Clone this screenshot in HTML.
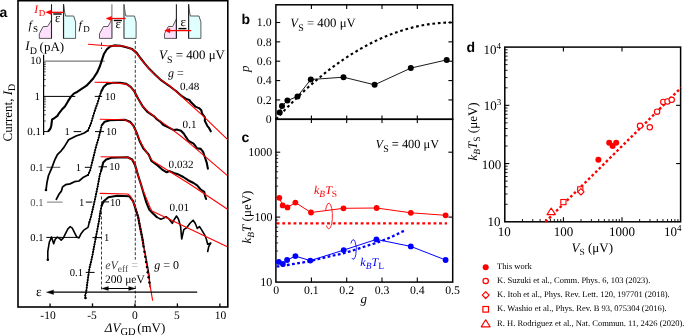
<!DOCTYPE html>
<html><head><meta charset="utf-8"><style>
html,body{margin:0;padding:0;background:#fff;width:685px;height:336px;overflow:hidden}
svg{display:block;font-family:"Liberation Serif",serif;text-rendering:geometricPrecision;will-change:transform}
</style></head><body>
<svg width="685" height="336" viewBox="0 0 685 336">
<rect x="0" y="0" width="685" height="336" fill="#fff"/>
<text x="-0.50" y="16.50" font-family='"Liberation Sans", sans-serif' font-size="14" fill="#000" text-anchor="start"  font-weight="bold">a</text>
<text x="241.50" y="23.50" font-family='"Liberation Sans", sans-serif' font-size="14" fill="#000" text-anchor="start"  font-weight="bold">b</text>
<text x="241.50" y="141.80" font-family='"Liberation Sans", sans-serif' font-size="14" fill="#000" text-anchor="start"  font-weight="bold">c</text>
<text x="466.50" y="51.70" font-family='"Liberation Sans", sans-serif' font-size="14" fill="#000" text-anchor="start"  font-weight="bold">d</text>
<polygon points="39.30,38.40 39.30,33.70 43.20,26.50 47.50,26.50 51.50,20.00 51.50,38.40" fill="#fde0fb" stroke="#333" stroke-width="0.8" stroke-linejoin="round"/>
<polygon points="63.60,4.50 64.80,13.00 65.50,16.00 73.70,16.00 75.60,22.00 75.60,38.40 63.60,38.40" fill="#e0ffff" stroke="#333" stroke-width="0.8" stroke-linejoin="round"/>
<line x1="51.50" y1="4.20" x2="51.50" y2="38.60" stroke="#222" stroke-width="1.1" />
<line x1="63.50" y1="4.20" x2="63.50" y2="38.60" stroke="#222" stroke-width="1.1" />
<polygon points="99.50,38.40 99.50,33.70 103.50,26.50 108.00,26.50 111.90,19.50 111.90,38.40" fill="#fde0fb" stroke="#333" stroke-width="0.8" stroke-linejoin="round"/>
<polygon points="124.00,4.50 125.20,13.00 125.80,16.00 134.50,16.00 136.10,22.00 136.10,38.40 124.00,38.40" fill="#e0ffff" stroke="#333" stroke-width="0.8" stroke-linejoin="round"/>
<line x1="111.90" y1="4.20" x2="111.90" y2="38.60" stroke="#777" stroke-width="1.1" />
<line x1="123.90" y1="4.20" x2="123.90" y2="38.60" stroke="#777" stroke-width="1.1" />
<polygon points="164.50,38.40 164.50,33.70 168.30,26.50 172.60,26.50 176.40,19.00 176.40,38.40" fill="#fde0fb" stroke="#333" stroke-width="0.8" stroke-linejoin="round"/>
<polygon points="188.60,4.50 189.70,13.00 190.30,16.00 199.00,16.00 200.90,22.00 200.90,38.40 188.60,38.40" fill="#e0ffff" stroke="#333" stroke-width="0.8" stroke-linejoin="round"/>
<line x1="176.40" y1="4.20" x2="176.40" y2="38.60" stroke="#222" stroke-width="1.1" />
<line x1="188.60" y1="4.20" x2="188.60" y2="38.60" stroke="#222" stroke-width="1.1" />
<line x1="50.60" y1="12.30" x2="64.00" y2="12.30" stroke="#ff0000" stroke-width="1.3" />
<polygon points="45.60,12.30 51.10,10.00 51.10,14.60" fill="#ff0000" stroke="#ff0000" stroke-width="0.3" stroke-linejoin="round"/>
<line x1="111.00" y1="18.50" x2="125.70" y2="18.50" stroke="#ff0000" stroke-width="1.3" />
<polygon points="106.00,18.50 111.50,16.20 111.50,20.80" fill="#ff0000" stroke="#ff0000" stroke-width="0.3" stroke-linejoin="round"/>
<line x1="169.50" y1="30.60" x2="191.20" y2="30.60" stroke="#ff0000" stroke-width="1.3" />
<polygon points="164.50,30.60 170.00,28.30 170.00,32.90" fill="#ff0000" stroke="#ff0000" stroke-width="0.3" stroke-linejoin="round"/>
<text x="34.20" y="12.90" font-family='"Liberation Serif", serif' font-size="11.5" fill="#ff0000" text-anchor="start"  font-style="italic">I</text>
<text x="38.80" y="16.20" font-family='"Liberation Serif", serif' font-size="9" fill="#ff0000" text-anchor="start"  >D</text>
<line x1="53.30" y1="14.00" x2="61.70" y2="14.00" stroke="#000" stroke-width="1.4" />
<text x="54.90" y="21.50" font-family='"Liberation Serif", serif' font-size="13" fill="#000" text-anchor="start"  >ε</text>
<line x1="113.80" y1="20.50" x2="121.90" y2="20.50" stroke="#000" stroke-width="1.4" />
<text x="115.60" y="27.80" font-family='"Liberation Serif", serif' font-size="13" fill="#000" text-anchor="start"  >ε</text>
<text x="180.40" y="26.20" font-family='"Liberation Serif", serif' font-size="13" fill="#000" text-anchor="start"  >ε</text>
<line x1="178.50" y1="28.60" x2="186.40" y2="28.60" stroke="#000" stroke-width="1.4" />
<text x="28.50" y="29.00" font-family='"Liberation Serif", serif' font-size="12" fill="#000" text-anchor="start"  font-style="italic">f</text>
<text x="33.00" y="31.50" font-family='"Liberation Serif", serif' font-size="9" fill="#000" text-anchor="start"  >S</text>
<text x="78.50" y="29.00" font-family='"Liberation Serif", serif' font-size="12" fill="#000" text-anchor="start"  font-style="italic">f</text>
<text x="83.30" y="31.50" font-family='"Liberation Serif", serif' font-size="9" fill="#000" text-anchor="start"  >D</text>
<text x="25.30" y="50.30" font-family='"Liberation Serif", serif' font-size="13" fill="#000" text-anchor="start"  font-style="italic">I</text>
<text x="29.80" y="54.30" font-family='"Liberation Serif", serif' font-size="10" fill="#000" text-anchor="start"  >D</text>
<text x="39.60" y="50.50" font-family='"Liberation Serif", serif' font-size="13" fill="#000" text-anchor="start"  >(pA)</text>
<rect x="18.00" y="0.70" width="209.80" height="306.30" fill="none" stroke="#000" stroke-width="1.6"/>
<line x1="50.05" y1="307.00" x2="50.05" y2="303.40" stroke="#000" stroke-width="1.3" />
<line x1="92.50" y1="307.00" x2="92.50" y2="303.40" stroke="#000" stroke-width="1.3" />
<line x1="134.95" y1="307.00" x2="134.95" y2="303.40" stroke="#000" stroke-width="1.3" />
<line x1="177.40" y1="307.00" x2="177.40" y2="303.40" stroke="#000" stroke-width="1.3" />
<line x1="219.85" y1="307.00" x2="219.85" y2="303.40" stroke="#000" stroke-width="1.3" />
<text x="40.30" y="319.30" font-family='"Liberation Serif", serif' font-size="11.5" fill="#000" text-anchor="start"  >-10</text>
<text x="87.20" y="319.30" font-family='"Liberation Serif", serif' font-size="11.5" fill="#000" text-anchor="start"  >-5</text>
<text x="134.90" y="319.30" font-family='"Liberation Serif", serif' font-size="11.5" fill="#000" text-anchor="middle"  >0</text>
<text x="176.90" y="319.30" font-family='"Liberation Serif", serif' font-size="11.5" fill="#000" text-anchor="middle"  >5</text>
<text x="220.50" y="319.30" font-family='"Liberation Serif", serif' font-size="11.5" fill="#000" text-anchor="middle"  >10</text>
<text x="104.80" y="331.90" font-family='"Liberation Serif", serif' font-size="13" fill="#000" text-anchor="start"  ><tspan font-style="italic">ΔV</tspan><tspan font-size="10.5" dy="3.2">GD</tspan><tspan dy="-3.2" dx="1.6">(mV)</tspan></text>
<text transform="translate(11.5,141.5) rotate(-90)" font-family='"Liberation Serif", serif' font-size="13" fill="#000">Current, <tspan font-style="italic">I</tspan><tspan font-size="10" dy="3">D</tspan></text>
<line x1="135.30" y1="41.00" x2="135.30" y2="307.00" stroke="#222" stroke-width="0.9" stroke-dasharray="3,1.8"/>
<line x1="101.50" y1="42.50" x2="101.50" y2="49.00" stroke="#222" stroke-width="0.9" stroke-dasharray="3,2"/>
<line x1="101.50" y1="196.50" x2="101.50" y2="289.50" stroke="#222" stroke-width="0.9" stroke-dasharray="3,2"/>
<line x1="43.60" y1="54.80" x2="43.60" y2="135.00" stroke="#000" stroke-width="1.2" />
<line x1="43.60" y1="85.80" x2="45.80" y2="85.80" stroke="#000" stroke-width="0.7" />
<line x1="43.60" y1="79.61" x2="45.80" y2="79.61" stroke="#000" stroke-width="0.7" />
<line x1="43.60" y1="75.21" x2="45.80" y2="75.21" stroke="#000" stroke-width="0.7" />
<line x1="43.60" y1="71.80" x2="45.80" y2="71.80" stroke="#000" stroke-width="0.7" />
<line x1="43.60" y1="69.01" x2="45.80" y2="69.01" stroke="#000" stroke-width="0.7" />
<line x1="43.60" y1="66.65" x2="45.80" y2="66.65" stroke="#000" stroke-width="0.7" />
<line x1="43.60" y1="64.61" x2="45.80" y2="64.61" stroke="#000" stroke-width="0.7" />
<line x1="43.60" y1="62.81" x2="45.80" y2="62.81" stroke="#000" stroke-width="0.7" />
<line x1="43.60" y1="121.00" x2="45.80" y2="121.00" stroke="#000" stroke-width="0.7" />
<line x1="43.60" y1="114.81" x2="45.80" y2="114.81" stroke="#000" stroke-width="0.7" />
<line x1="43.60" y1="110.41" x2="45.80" y2="110.41" stroke="#000" stroke-width="0.7" />
<line x1="43.60" y1="107.00" x2="45.80" y2="107.00" stroke="#000" stroke-width="0.7" />
<line x1="43.60" y1="104.21" x2="45.80" y2="104.21" stroke="#000" stroke-width="0.7" />
<line x1="43.60" y1="101.85" x2="45.80" y2="101.85" stroke="#000" stroke-width="0.7" />
<line x1="43.60" y1="99.81" x2="45.80" y2="99.81" stroke="#000" stroke-width="0.7" />
<line x1="43.60" y1="98.01" x2="45.80" y2="98.01" stroke="#000" stroke-width="0.7" />
<line x1="43.60" y1="61.20" x2="104.70" y2="61.20" stroke="#7a7a7a" stroke-width="1.3" />
<line x1="43.60" y1="96.40" x2="75.30" y2="96.40" stroke="#000" stroke-width="1.0" />
<line x1="43.60" y1="131.60" x2="48.60" y2="131.60" stroke="#000" stroke-width="1.0" />
<text x="41.20" y="64.40" font-family='"Liberation Serif", serif' font-size="11" fill="#000" text-anchor="end"  >10</text>
<text x="40.00" y="100.00" font-family='"Liberation Serif", serif' font-size="11" fill="#000" text-anchor="end"  >1</text>
<text x="41.00" y="134.80" font-family='"Liberation Serif", serif' font-size="11" fill="#000" text-anchor="end"  >0.1</text>
<line x1="94.80" y1="96.40" x2="102.20" y2="96.40" stroke="#000" stroke-width="1.0" />
<text x="105.00" y="100.00" font-family='"Liberation Serif", serif' font-size="10.6" fill="#000" text-anchor="start"  >10</text>
<line x1="73.60" y1="131.60" x2="81.30" y2="131.60" stroke="#000" stroke-width="1.0" />
<text x="69.80" y="135.20" font-family='"Liberation Serif", serif' font-size="10.6" fill="#000" text-anchor="end"  >1</text>
<line x1="46.50" y1="167.30" x2="60.30" y2="167.30" stroke="#555" stroke-width="1.0" />
<text x="43.60" y="170.90" font-family='"Liberation Serif", serif' font-size="10.6" fill="#111" text-anchor="end"  >0.1</text>
<line x1="95.00" y1="131.60" x2="104.00" y2="131.60" stroke="#000" stroke-width="1.0" />
<text x="106.00" y="135.20" font-family='"Liberation Serif", serif' font-size="10.6" fill="#000" text-anchor="start"  >10</text>
<line x1="84.80" y1="167.30" x2="90.70" y2="167.30" stroke="#000" stroke-width="1.0" />
<text x="81.00" y="170.90" font-family='"Liberation Serif", serif' font-size="10.6" fill="#000" text-anchor="end"  >1</text>
<line x1="47.00" y1="202.10" x2="62.60" y2="202.10" stroke="#777" stroke-width="1.0" />
<text x="43.60" y="205.70" font-family='"Liberation Serif", serif' font-size="10.6" fill="#555" text-anchor="end"  >0.1</text>
<line x1="98.60" y1="166.80" x2="107.00" y2="166.80" stroke="#000" stroke-width="1.0" />
<text x="109.30" y="170.40" font-family='"Liberation Serif", serif' font-size="10.6" fill="#000" text-anchor="start"  >10</text>
<line x1="85.80" y1="202.10" x2="92.30" y2="202.10" stroke="#000" stroke-width="1.0" />
<text x="84.20" y="205.70" font-family='"Liberation Serif", serif' font-size="10.6" fill="#000" text-anchor="end"  >1</text>
<line x1="46.30" y1="237.40" x2="80.00" y2="237.40" stroke="#000" stroke-width="1.0" />
<text x="43.60" y="241.00" font-family='"Liberation Serif", serif' font-size="10.6" fill="#000" text-anchor="end"  >0.1</text>
<line x1="101.80" y1="201.90" x2="109.00" y2="201.90" stroke="#000" stroke-width="1.0" />
<text x="110.00" y="205.50" font-family='"Liberation Serif", serif' font-size="10.6" fill="#000" text-anchor="start"  >10</text>
<line x1="92.40" y1="237.60" x2="101.50" y2="237.60" stroke="#000" stroke-width="1.0" />
<text x="104.00" y="241.20" font-family='"Liberation Serif", serif' font-size="10.6" fill="#000" text-anchor="start"  >1</text>
<line x1="85.70" y1="272.40" x2="94.60" y2="272.40" stroke="#000" stroke-width="1.0" />
<text x="83.00" y="276.00" font-family='"Liberation Serif", serif' font-size="10.6" fill="#000" text-anchor="end"  >0.1</text>
<polyline points="48.50,131.00 50.50,128.50 51.30,125.50 52.10,119.40 53.90,118.50 57.40,115.90 58.90,113.30 61.90,109.60 64.90,106.60 67.90,101.40 70.80,96.90 73.80,93.60 77.50,91.70 82.00,88.70 86.50,85.70 90.00,82.00 93.20,78.50 97.00,72.70 100.00,66.00 101.90,60.10 103.80,54.30 106.70,49.50 109.90,46.60 114.30,45.40 120.30,45.70 126.30,47.20 132.20,49.10 136.70,52.90 140.00,57.50 144.80,63.60 149.50,69.10 155.50,75.00 161.40,80.40 167.40,84.60 170.00,86.50 176.00,91.00 181.90,96.20 186.40,99.10 189.30,99.90 190.80,102.10 195.30,106.60 199.00,108.10 201.30,110.30 202.00,113.30 204.00,116.00 205.00,117.50 204.80,120.70 205.70,122.60 207.60,126.40 209.00,127.90 210.50,130.70 210.80,131.30" fill="none" stroke="#000" stroke-width="2.1" stroke-linejoin="round" stroke-linecap="round" />
<polyline points="46.00,190.00 47.00,182.40 48.50,175.50 51.50,168.70 53.70,162.70 55.20,159.00 57.40,154.60 61.20,150.80 64.10,147.10 66.40,143.40 68.60,139.70 71.60,138.20 76.00,136.00 80.50,134.50 84.20,133.00 88.00,130.50" fill="none" stroke="#000" stroke-width="1.75" stroke-linejoin="round" stroke-linecap="round" />
<polyline points="88.00,130.50 90.90,123.70 93.10,116.30 95.20,109.50 97.60,102.90 99.50,96.50 101.30,91.50" fill="none" stroke="#000" stroke-width="1.1" stroke-linejoin="round" stroke-linecap="round" />
<polyline points="101.30,91.50 103.60,87.00 106.90,83.90 112.90,82.70 120.30,82.70 126.30,83.90 130.70,86.90 134.40,91.40 138.20,98.80 142.60,106.30 147.80,112.20 154.50,116.70 157.10,119.50 160.50,121.80 163.10,124.80 167.90,127.10 173.80,130.10 176.80,129.50 181.00,130.70 183.90,133.70 185.70,136.70 188.00,140.20 190.00,141.80 193.60,143.60 197.10,148.30 200.70,148.90 203.10,151.90 204.30,155.50 205.50,159.00 206.70,162.60 207.90,168.60" fill="none" stroke="#000" stroke-width="2.1" stroke-linejoin="round" stroke-linecap="round" />
<polyline points="56.30,199.30 58.90,194.30 61.20,191.40 62.60,186.90 65.60,184.70 70.00,183.90 74.50,181.70 79.00,181.00 83.50,177.20 88.00,175.00" fill="none" stroke="#000" stroke-width="1.75" stroke-linejoin="round" stroke-linecap="round" />
<polyline points="88.00,175.00 90.20,170.20 91.70,164.20 93.90,155.30 96.10,146.40 98.40,138.90 100.60,130.00 101.70,125.40" fill="none" stroke="#000" stroke-width="1.1" stroke-linejoin="round" stroke-linecap="round" />
<polyline points="101.70,125.40 104.70,121.70 109.90,120.20 124.80,119.80 130.00,121.70 133.70,126.20 136.70,132.90 139.60,141.00 143.40,148.50 148.60,154.40 151.50,161.00 157.50,165.40 161.90,169.30 166.70,172.30 169.60,171.10 173.80,172.90 178.60,174.60 183.30,177.00 188.10,180.20 190.00,181.20 193.60,183.00 197.10,185.40 200.70,189.50 204.30,191.90 204.90,195.50 206.10,199.00" fill="none" stroke="#000" stroke-width="2.1" stroke-linejoin="round" stroke-linecap="round" />
<polyline points="47.80,259.80 47.80,251.30 49.30,242.30 51.50,237.10 53.70,243.80 55.20,239.30 57.40,237.10 59.70,238.60 61.20,240.10 63.40,237.90 65.60,233.40 67.90,228.90 70.10,226.70 72.30,228.20 74.50,232.60 76.80,237.10 79.00,237.90 81.20,233.40 83.50,230.40 85.70,228.90 88.00,227.40 89.40,222.00" fill="none" stroke="#000" stroke-width="1.6" stroke-linejoin="round" stroke-linecap="round" />
<polyline points="89.40,222.00 90.90,217.00 93.10,207.70 95.40,197.30 97.60,186.90 99.80,175.00 101.30,170.20" fill="none" stroke="#000" stroke-width="1.1" stroke-linejoin="round" stroke-linecap="round" />
<polyline points="101.30,170.20 103.20,162.40 106.20,159.50 111.40,157.70 127.70,157.20 132.20,159.50 135.20,165.40 138.20,175.80 141.10,184.80 144.10,195.00 146.30,202.40 149.40,209.80 152.50,212.90 156.70,217.10" fill="none" stroke="#000" stroke-width="2.1" stroke-linejoin="round" stroke-linecap="round" />
<polyline points="156.70,217.10 160.80,219.20 164.00,218.10 166.00,216.70 169.20,219.20 172.30,223.30 174.40,219.20 176.50,216.00 178.50,219.20 180.60,226.50 181.70,239.00 183.80,229.60 186.90,227.50 190.00,223.30 193.10,220.20 195.20,223.30 197.30,228.50 199.40,226.50 201.50,229.60 204.60,234.80 206.30,239.00 207.70,244.20 210.80,243.10 208.80,246.30 207.70,251.50" fill="none" stroke="#000" stroke-width="1.6" stroke-linejoin="round" stroke-linecap="round" />
<polyline points="85.50,298.00 85.20,295.70 86.50,289.80 87.20,283.80 88.70,273.40 89.50,268.00 91.00,262.00 92.40,255.70 94.60,243.80 96.90,232.00 99.00,221.00 100.30,212.00 101.70,205.40" fill="none" stroke="#000" stroke-width="1.1" stroke-linejoin="round" stroke-linecap="round" />
<polyline points="101.70,205.40 103.90,201.00 108.40,197.20 117.30,195.70 129.20,196.20 133.00,201.00 135.90,209.90 138.20,217.30 139.60,224.80 141.10,232.20 142.60,239.60 143.40,245.00" fill="none" stroke="#000" stroke-width="2.1" stroke-linejoin="round" stroke-linecap="round" />
<polyline points="143.40,245.00 145.00,252.00 146.50,260.00 148.00,268.00 149.30,276.00 150.00,287.00" fill="none" stroke="#000" stroke-width="1.1" stroke-linejoin="round" stroke-linecap="round" />
<circle cx="88.00" cy="130.50" r="1.1" fill="#000" stroke="none" stroke-width="1"/>
<circle cx="89.02" cy="128.11" r="1.1" fill="#000" stroke="none" stroke-width="1"/>
<circle cx="90.04" cy="125.72" r="1.1" fill="#000" stroke="none" stroke-width="1"/>
<circle cx="91.02" cy="123.31" r="1.1" fill="#000" stroke="none" stroke-width="1"/>
<circle cx="91.76" cy="120.82" r="1.1" fill="#000" stroke="none" stroke-width="1"/>
<circle cx="92.50" cy="118.33" r="1.1" fill="#000" stroke="none" stroke-width="1"/>
<circle cx="93.24" cy="115.83" r="1.1" fill="#000" stroke="none" stroke-width="1"/>
<circle cx="94.01" cy="113.35" r="1.1" fill="#000" stroke="none" stroke-width="1"/>
<circle cx="94.78" cy="110.87" r="1.1" fill="#000" stroke="none" stroke-width="1"/>
<circle cx="95.60" cy="108.40" r="1.1" fill="#000" stroke="none" stroke-width="1"/>
<circle cx="96.49" cy="105.96" r="1.1" fill="#000" stroke="none" stroke-width="1"/>
<circle cx="97.38" cy="103.51" r="1.1" fill="#000" stroke="none" stroke-width="1"/>
<circle cx="98.15" cy="101.03" r="1.1" fill="#000" stroke="none" stroke-width="1"/>
<circle cx="98.89" cy="98.54" r="1.1" fill="#000" stroke="none" stroke-width="1"/>
<circle cx="99.66" cy="96.06" r="1.1" fill="#000" stroke="none" stroke-width="1"/>
<circle cx="100.54" cy="93.61" r="1.1" fill="#000" stroke="none" stroke-width="1"/>
<circle cx="88.00" cy="175.00" r="1.1" fill="#000" stroke="none" stroke-width="1"/>
<circle cx="89.08" cy="172.64" r="1.1" fill="#000" stroke="none" stroke-width="1"/>
<circle cx="90.17" cy="170.27" r="1.1" fill="#000" stroke="none" stroke-width="1"/>
<circle cx="90.81" cy="167.76" r="1.1" fill="#000" stroke="none" stroke-width="1"/>
<circle cx="91.44" cy="165.23" r="1.1" fill="#000" stroke="none" stroke-width="1"/>
<circle cx="92.07" cy="162.71" r="1.1" fill="#000" stroke="none" stroke-width="1"/>
<circle cx="92.69" cy="160.19" r="1.1" fill="#000" stroke="none" stroke-width="1"/>
<circle cx="93.32" cy="157.66" r="1.1" fill="#000" stroke="none" stroke-width="1"/>
<circle cx="93.94" cy="155.14" r="1.1" fill="#000" stroke="none" stroke-width="1"/>
<circle cx="94.56" cy="152.61" r="1.1" fill="#000" stroke="none" stroke-width="1"/>
<circle cx="95.19" cy="150.09" r="1.1" fill="#000" stroke="none" stroke-width="1"/>
<circle cx="95.81" cy="147.57" r="1.1" fill="#000" stroke="none" stroke-width="1"/>
<circle cx="96.51" cy="145.06" r="1.1" fill="#000" stroke="none" stroke-width="1"/>
<circle cx="97.27" cy="142.58" r="1.1" fill="#000" stroke="none" stroke-width="1"/>
<circle cx="98.03" cy="140.09" r="1.1" fill="#000" stroke="none" stroke-width="1"/>
<circle cx="98.73" cy="137.58" r="1.1" fill="#000" stroke="none" stroke-width="1"/>
<circle cx="99.35" cy="135.06" r="1.1" fill="#000" stroke="none" stroke-width="1"/>
<circle cx="99.97" cy="132.54" r="1.1" fill="#000" stroke="none" stroke-width="1"/>
<circle cx="100.60" cy="130.01" r="1.1" fill="#000" stroke="none" stroke-width="1"/>
<circle cx="101.20" cy="127.48" r="1.1" fill="#000" stroke="none" stroke-width="1"/>
<circle cx="89.40" cy="222.00" r="1.1" fill="#000" stroke="none" stroke-width="1"/>
<circle cx="90.15" cy="219.51" r="1.1" fill="#000" stroke="none" stroke-width="1"/>
<circle cx="90.89" cy="217.02" r="1.1" fill="#000" stroke="none" stroke-width="1"/>
<circle cx="91.49" cy="214.49" r="1.1" fill="#000" stroke="none" stroke-width="1"/>
<circle cx="92.09" cy="211.96" r="1.1" fill="#000" stroke="none" stroke-width="1"/>
<circle cx="92.69" cy="209.43" r="1.1" fill="#000" stroke="none" stroke-width="1"/>
<circle cx="93.28" cy="206.90" r="1.1" fill="#000" stroke="none" stroke-width="1"/>
<circle cx="93.84" cy="204.36" r="1.1" fill="#000" stroke="none" stroke-width="1"/>
<circle cx="94.40" cy="201.82" r="1.1" fill="#000" stroke="none" stroke-width="1"/>
<circle cx="94.96" cy="199.28" r="1.1" fill="#000" stroke="none" stroke-width="1"/>
<circle cx="95.52" cy="196.74" r="1.1" fill="#000" stroke="none" stroke-width="1"/>
<circle cx="96.06" cy="194.20" r="1.1" fill="#000" stroke="none" stroke-width="1"/>
<circle cx="96.59" cy="191.65" r="1.1" fill="#000" stroke="none" stroke-width="1"/>
<circle cx="97.13" cy="189.11" r="1.1" fill="#000" stroke="none" stroke-width="1"/>
<circle cx="97.66" cy="186.56" r="1.1" fill="#000" stroke="none" stroke-width="1"/>
<circle cx="98.13" cy="184.01" r="1.1" fill="#000" stroke="none" stroke-width="1"/>
<circle cx="98.61" cy="181.45" r="1.1" fill="#000" stroke="none" stroke-width="1"/>
<circle cx="99.08" cy="178.89" r="1.1" fill="#000" stroke="none" stroke-width="1"/>
<circle cx="99.55" cy="176.34" r="1.1" fill="#000" stroke="none" stroke-width="1"/>
<circle cx="100.17" cy="173.82" r="1.1" fill="#000" stroke="none" stroke-width="1"/>
<circle cx="100.95" cy="171.33" r="1.1" fill="#000" stroke="none" stroke-width="1"/>
<circle cx="85.50" cy="298.00" r="1.1" fill="#000" stroke="none" stroke-width="1"/>
<circle cx="85.26" cy="295.43" r="1.1" fill="#000" stroke="none" stroke-width="1"/>
<circle cx="85.82" cy="292.89" r="1.1" fill="#000" stroke="none" stroke-width="1"/>
<circle cx="86.38" cy="290.35" r="1.1" fill="#000" stroke="none" stroke-width="1"/>
<circle cx="86.74" cy="287.77" r="1.1" fill="#000" stroke="none" stroke-width="1"/>
<circle cx="87.04" cy="285.19" r="1.1" fill="#000" stroke="none" stroke-width="1"/>
<circle cx="87.37" cy="282.61" r="1.1" fill="#000" stroke="none" stroke-width="1"/>
<circle cx="87.74" cy="280.04" r="1.1" fill="#000" stroke="none" stroke-width="1"/>
<circle cx="88.11" cy="277.47" r="1.1" fill="#000" stroke="none" stroke-width="1"/>
<circle cx="88.48" cy="274.89" r="1.1" fill="#000" stroke="none" stroke-width="1"/>
<circle cx="88.86" cy="272.32" r="1.1" fill="#000" stroke="none" stroke-width="1"/>
<circle cx="89.24" cy="269.75" r="1.1" fill="#000" stroke="none" stroke-width="1"/>
<circle cx="89.70" cy="267.19" r="1.1" fill="#000" stroke="none" stroke-width="1"/>
<circle cx="90.33" cy="264.67" r="1.1" fill="#000" stroke="none" stroke-width="1"/>
<circle cx="90.96" cy="262.15" r="1.1" fill="#000" stroke="none" stroke-width="1"/>
<circle cx="91.53" cy="259.61" r="1.1" fill="#000" stroke="none" stroke-width="1"/>
<circle cx="92.09" cy="257.07" r="1.1" fill="#000" stroke="none" stroke-width="1"/>
<circle cx="92.62" cy="254.53" r="1.1" fill="#000" stroke="none" stroke-width="1"/>
<circle cx="93.09" cy="251.97" r="1.1" fill="#000" stroke="none" stroke-width="1"/>
<circle cx="93.56" cy="249.41" r="1.1" fill="#000" stroke="none" stroke-width="1"/>
<circle cx="94.03" cy="246.86" r="1.1" fill="#000" stroke="none" stroke-width="1"/>
<circle cx="94.51" cy="244.30" r="1.1" fill="#000" stroke="none" stroke-width="1"/>
<circle cx="95.00" cy="241.75" r="1.1" fill="#000" stroke="none" stroke-width="1"/>
<circle cx="95.50" cy="239.19" r="1.1" fill="#000" stroke="none" stroke-width="1"/>
<circle cx="96.00" cy="236.64" r="1.1" fill="#000" stroke="none" stroke-width="1"/>
<circle cx="96.49" cy="234.09" r="1.1" fill="#000" stroke="none" stroke-width="1"/>
<circle cx="96.99" cy="231.54" r="1.1" fill="#000" stroke="none" stroke-width="1"/>
<circle cx="97.48" cy="228.98" r="1.1" fill="#000" stroke="none" stroke-width="1"/>
<circle cx="97.96" cy="226.43" r="1.1" fill="#000" stroke="none" stroke-width="1"/>
<circle cx="98.45" cy="223.88" r="1.1" fill="#000" stroke="none" stroke-width="1"/>
<circle cx="98.94" cy="221.32" r="1.1" fill="#000" stroke="none" stroke-width="1"/>
<circle cx="99.32" cy="218.75" r="1.1" fill="#000" stroke="none" stroke-width="1"/>
<circle cx="99.70" cy="216.18" r="1.1" fill="#000" stroke="none" stroke-width="1"/>
<circle cx="100.07" cy="213.61" r="1.1" fill="#000" stroke="none" stroke-width="1"/>
<circle cx="100.50" cy="211.04" r="1.1" fill="#000" stroke="none" stroke-width="1"/>
<circle cx="101.04" cy="208.50" r="1.1" fill="#000" stroke="none" stroke-width="1"/>
<circle cx="101.58" cy="205.96" r="1.1" fill="#000" stroke="none" stroke-width="1"/>
<circle cx="46.00" cy="190.00" r="1.3" fill="#000" stroke="none" stroke-width="1"/>
<circle cx="47.80" cy="259.80" r="1.3" fill="#000" stroke="none" stroke-width="1"/>
<circle cx="85.50" cy="298.00" r="1.2" fill="#000" stroke="none" stroke-width="1"/>
<polyline points="88.40,44.30 109.60,46.00 114.30,45.60 120.30,45.90 124.80,46.30 133.70,49.90 140.00,57.80 144.80,63.90 149.50,69.40 155.50,75.40 161.40,80.40 167.40,84.30 170.00,86.00 201.90,114.80 227.40,139.40" fill="none" stroke="#ff0000" stroke-width="1.1" stroke-linejoin="round" stroke-linecap="round" />
<polyline points="95.00,82.30 108.40,82.40 124.80,83.90 126.30,84.20 130.70,87.00 134.40,91.40 138.20,98.80 142.60,106.30 148.30,111.70 157.90,119.40 169.80,127.60 181.00,136.30 190.00,143.60 226.90,175.10" fill="none" stroke="#ff0000" stroke-width="1.1" stroke-linejoin="round" stroke-linecap="round" />
<polyline points="100.20,119.20 124.80,119.80 132.20,123.90 136.70,132.90 141.10,143.30 145.60,150.70 148.60,155.50 152.40,160.80 190.00,184.20 227.50,209.20" fill="none" stroke="#ff0000" stroke-width="1.1" stroke-linejoin="round" stroke-linecap="round" />
<polyline points="101.00,156.80 127.70,157.20 133.70,161.00 136.70,169.90 139.60,180.30 142.60,189.20 146.30,198.20 150.10,207.50 152.00,211.00 226.80,246.40" fill="none" stroke="#ff0000" stroke-width="1.1" stroke-linejoin="round" stroke-linecap="round" />
<polyline points="100.20,193.40 127.70,194.00 130.70,196.50 135.90,208.40 139.60,223.30 141.20,233.00 152.60,300.30" fill="none" stroke="#ff0000" stroke-width="1.1" stroke-linejoin="round" stroke-linecap="round" />
<circle cx="135.90" cy="209.90" r="1.0" fill="#000" stroke="none" stroke-width="1"/>
<circle cx="136.73" cy="212.57" r="1.0" fill="#000" stroke="none" stroke-width="1"/>
<circle cx="137.56" cy="215.25" r="1.0" fill="#000" stroke="none" stroke-width="1"/>
<circle cx="138.32" cy="217.94" r="1.0" fill="#000" stroke="none" stroke-width="1"/>
<circle cx="138.83" cy="220.69" r="1.0" fill="#000" stroke="none" stroke-width="1"/>
<circle cx="139.35" cy="223.44" r="1.0" fill="#000" stroke="none" stroke-width="1"/>
<circle cx="139.88" cy="226.19" r="1.0" fill="#000" stroke="none" stroke-width="1"/>
<circle cx="140.44" cy="228.94" r="1.0" fill="#000" stroke="none" stroke-width="1"/>
<circle cx="140.99" cy="231.68" r="1.0" fill="#000" stroke="none" stroke-width="1"/>
<circle cx="141.55" cy="234.43" r="1.0" fill="#000" stroke="none" stroke-width="1"/>
<circle cx="142.11" cy="237.17" r="1.0" fill="#000" stroke="none" stroke-width="1"/>
<circle cx="142.65" cy="239.92" r="1.0" fill="#000" stroke="none" stroke-width="1"/>
<circle cx="143.06" cy="242.69" r="1.0" fill="#000" stroke="none" stroke-width="1"/>
<circle cx="143.60" cy="246.50" r="1.25" fill="#000" stroke="none" stroke-width="1"/>
<circle cx="144.43" cy="251.63" r="1.25" fill="#000" stroke="none" stroke-width="1"/>
<circle cx="145.25" cy="256.77" r="1.25" fill="#000" stroke="none" stroke-width="1"/>
<circle cx="146.08" cy="261.90" r="1.25" fill="#000" stroke="none" stroke-width="1"/>
<circle cx="146.91" cy="267.04" r="1.25" fill="#000" stroke="none" stroke-width="1"/>
<circle cx="147.73" cy="272.17" r="1.25" fill="#000" stroke="none" stroke-width="1"/>
<circle cx="148.56" cy="277.30" r="1.25" fill="#000" stroke="none" stroke-width="1"/>
<circle cx="149.39" cy="282.44" r="1.25" fill="#000" stroke="none" stroke-width="1"/>
<text x="159.00" y="59.20" font-family='"Liberation Serif", serif' font-size="12.9" fill="#000" text-anchor="start"  ><tspan font-style="italic">V</tspan><tspan font-size="10" dy="3.8">S</tspan><tspan dy="-3.8"> = 400 μV</tspan></text>
<text x="168.00" y="77.40" font-family='"Liberation Serif", serif' font-size="12" fill="#000" text-anchor="start"  ><tspan font-style="italic">g</tspan> =</text>
<text x="180.00" y="89.60" font-family='"Liberation Serif", serif' font-size="11.1" fill="#000" text-anchor="start"  >0.48</text>
<text x="182.60" y="128.30" font-family='"Liberation Serif", serif' font-size="11.1" fill="#000" text-anchor="start"  >0.1</text>
<text x="168.60" y="167.50" font-family='"Liberation Serif", serif' font-size="11.1" fill="#000" text-anchor="start"  >0.032</text>
<text x="169.60" y="211.30" font-family='"Liberation Serif", serif' font-size="11.1" fill="#000" text-anchor="start"  >0.01</text>
<text x="154.30" y="268.60" font-family='"Liberation Serif", serif' font-size="12" fill="#000" text-anchor="start"  ><tspan font-style="italic">g</tspan> = 0</text>
<rect x="104" y="259.6" width="40.5" height="25.6" fill="#fff"/>
<text x="105.20" y="269.20" font-family='"Liberation Serif", serif' font-size="12" fill="#444" text-anchor="start"  ><tspan font-style="italic">eV</tspan><tspan font-size="9.5" dy="3">eff</tspan><tspan dy="-3" fill="#999"> =</tspan></text>
<text x="105.00" y="282.60" font-family='"Liberation Serif", serif' font-size="11.5" fill="#000" text-anchor="start"  >200 μeV</text>
<line x1="53.10" y1="292.20" x2="197.20" y2="292.20" stroke="#000" stroke-width="1.3" />
<polygon points="46.30,292.20 53.60,289.90 53.60,294.50" fill="#000" stroke="#000" stroke-width="0.3" stroke-linejoin="round"/>
<text x="36.00" y="295.60" font-family='"Liberation Serif", serif' font-size="13.5" fill="#000" text-anchor="start"  >ε</text>
<line x1="107.90" y1="288.50" x2="135.50" y2="288.50" stroke="#000" stroke-width="1.0" />
<polygon points="101.60,288.50 108.40,286.50 108.40,290.50" fill="#000" stroke="#000" stroke-width="0.3" stroke-linejoin="round"/>
<polygon points="135.50,288.50 128.70,286.50 128.70,290.50" fill="#000" stroke="#000" stroke-width="0.3" stroke-linejoin="round"/>
<rect x="275.90" y="4.80" width="176.80" height="114.50" fill="none" stroke="#000" stroke-width="1.5"/>
<rect x="275.90" y="119.30" width="176.80" height="162.80" fill="none" stroke="#000" stroke-width="1.5"/>
<line x1="311.40" y1="4.80" x2="311.40" y2="9.10" stroke="#000" stroke-width="1.1" />
<line x1="311.40" y1="119.30" x2="311.40" y2="115.50" stroke="#000" stroke-width="1.1" />
<line x1="311.40" y1="119.30" x2="311.40" y2="123.10" stroke="#000" stroke-width="1.1" />
<line x1="311.40" y1="282.10" x2="311.40" y2="277.50" stroke="#000" stroke-width="1.1" />
<line x1="346.70" y1="4.80" x2="346.70" y2="9.10" stroke="#000" stroke-width="1.1" />
<line x1="346.70" y1="119.30" x2="346.70" y2="115.50" stroke="#000" stroke-width="1.1" />
<line x1="346.70" y1="119.30" x2="346.70" y2="123.10" stroke="#000" stroke-width="1.1" />
<line x1="346.70" y1="282.10" x2="346.70" y2="277.50" stroke="#000" stroke-width="1.1" />
<line x1="382.00" y1="4.80" x2="382.00" y2="9.10" stroke="#000" stroke-width="1.1" />
<line x1="382.00" y1="119.30" x2="382.00" y2="115.50" stroke="#000" stroke-width="1.1" />
<line x1="382.00" y1="119.30" x2="382.00" y2="123.10" stroke="#000" stroke-width="1.1" />
<line x1="382.00" y1="282.10" x2="382.00" y2="277.50" stroke="#000" stroke-width="1.1" />
<line x1="417.30" y1="4.80" x2="417.30" y2="9.10" stroke="#000" stroke-width="1.1" />
<line x1="417.30" y1="119.30" x2="417.30" y2="115.50" stroke="#000" stroke-width="1.1" />
<line x1="417.30" y1="119.30" x2="417.30" y2="123.10" stroke="#000" stroke-width="1.1" />
<line x1="417.30" y1="282.10" x2="417.30" y2="277.50" stroke="#000" stroke-width="1.1" />
<line x1="275.90" y1="99.94" x2="280.20" y2="99.94" stroke="#000" stroke-width="1.1" />
<line x1="452.70" y1="99.94" x2="448.40" y2="99.94" stroke="#000" stroke-width="1.1" />
<line x1="275.90" y1="80.58" x2="280.20" y2="80.58" stroke="#000" stroke-width="1.1" />
<line x1="452.70" y1="80.58" x2="448.40" y2="80.58" stroke="#000" stroke-width="1.1" />
<line x1="275.90" y1="61.22" x2="280.20" y2="61.22" stroke="#000" stroke-width="1.1" />
<line x1="452.70" y1="61.22" x2="448.40" y2="61.22" stroke="#000" stroke-width="1.1" />
<line x1="275.90" y1="41.86" x2="280.20" y2="41.86" stroke="#000" stroke-width="1.1" />
<line x1="452.70" y1="41.86" x2="448.40" y2="41.86" stroke="#000" stroke-width="1.1" />
<line x1="275.90" y1="22.50" x2="280.20" y2="22.50" stroke="#000" stroke-width="1.1" />
<line x1="452.70" y1="22.50" x2="448.40" y2="22.50" stroke="#000" stroke-width="1.1" />
<text x="271.60" y="123.20" font-family='"Liberation Serif", serif' font-size="11.8" fill="#000" text-anchor="end"  >0</text>
<text x="271.60" y="103.84" font-family='"Liberation Serif", serif' font-size="11.8" fill="#000" text-anchor="end"  >0.2</text>
<text x="271.60" y="84.48" font-family='"Liberation Serif", serif' font-size="11.8" fill="#000" text-anchor="end"  >0.4</text>
<text x="271.60" y="65.12" font-family='"Liberation Serif", serif' font-size="11.8" fill="#000" text-anchor="end"  >0.6</text>
<text x="271.60" y="45.76" font-family='"Liberation Serif", serif' font-size="11.8" fill="#000" text-anchor="end"  >0.8</text>
<text x="271.60" y="26.40" font-family='"Liberation Serif", serif' font-size="11.8" fill="#000" text-anchor="end"  >1.0</text>
<text transform="translate(249.2,72.0) rotate(-90)" font-family='"Liberation Serif", serif' font-size="13" font-style="italic" fill="#000">p</text>
<text x="290.30" y="27.00" font-family='"Liberation Serif", serif' font-size="12.8" fill="#000" text-anchor="start"  ><tspan font-style="italic">V</tspan><tspan font-size="10" dy="3.6">S</tspan><tspan dy="-3.6"> = 400 μV</tspan></text>
<polyline points="276.10,119.30 277.87,117.37 279.63,115.47 281.40,113.58 283.16,111.71 284.93,109.86 286.69,108.03 288.46,106.22 290.22,104.43 291.99,102.66 293.75,100.91 295.52,99.18 297.28,97.46 299.05,95.77 300.81,94.09 302.58,92.44 304.34,90.80 306.11,89.19 307.87,87.59 309.64,86.01 311.40,84.45 313.17,82.91 314.93,81.39 316.70,79.89 318.46,78.41 320.23,76.95 321.99,75.51 323.75,74.08 325.52,72.68 327.29,71.30 329.05,69.93 330.81,68.59 332.58,67.26 334.35,65.95 336.11,64.67 337.88,63.40 339.64,62.15 341.41,60.92 343.17,59.71 344.94,58.52 346.70,57.35 348.47,56.20 350.23,55.06 352.00,53.95 353.76,52.86 355.53,51.78 357.29,50.73 359.06,49.69 360.82,48.67 362.59,47.68 364.35,46.70 366.12,45.74 367.88,44.80 369.65,43.88 371.41,42.98 373.18,42.10 374.94,41.24 376.71,40.40 378.47,39.58 380.24,38.77 382.00,37.99 383.76,37.22 385.53,36.48 387.30,35.75 389.06,35.05 390.83,34.36 392.59,33.69 394.36,33.04 396.12,32.41 397.88,31.80 399.65,31.21 401.42,30.64 403.18,30.09 404.95,29.56 406.71,29.04 408.48,28.55 410.24,28.08 412.00,27.62 413.77,27.19 415.54,26.77 417.30,26.37 419.07,25.99 420.83,25.64 422.60,25.30 424.36,24.98 426.12,24.68 427.89,24.40 429.66,24.14 431.42,23.89 433.19,23.67 434.95,23.47 436.72,23.28 438.48,23.12 440.25,22.97 442.01,22.85 443.77,22.74 445.54,22.65 447.31,22.59 449.07,22.54 450.84,22.51 452.60,22.50" fill="none" stroke="#000" stroke-width="2.1" stroke-linejoin="round" stroke-linecap="butt" stroke-dasharray="2.7,2.8"/>
<polyline points="279.70,112.60 282.00,106.00 287.40,100.60 297.50,96.40 310.80,79.50 343.50,77.20 374.60,84.80 410.80,68.10 446.70,59.90" fill="none" stroke="#000" stroke-width="0.9" stroke-linejoin="round" stroke-linecap="round" />
<circle cx="279.70" cy="112.60" r="3.0" fill="#000" stroke="none" stroke-width="1"/>
<circle cx="282.00" cy="106.00" r="3.0" fill="#000" stroke="none" stroke-width="1"/>
<circle cx="287.40" cy="100.60" r="3.0" fill="#000" stroke="none" stroke-width="1"/>
<circle cx="297.50" cy="96.40" r="3.0" fill="#000" stroke="none" stroke-width="1"/>
<circle cx="310.80" cy="79.50" r="3.0" fill="#000" stroke="none" stroke-width="1"/>
<circle cx="343.50" cy="77.20" r="3.0" fill="#000" stroke="none" stroke-width="1"/>
<circle cx="374.60" cy="84.80" r="3.0" fill="#000" stroke="none" stroke-width="1"/>
<circle cx="410.80" cy="68.10" r="3.0" fill="#000" stroke="none" stroke-width="1"/>
<circle cx="446.70" cy="59.90" r="3.0" fill="#000" stroke="none" stroke-width="1"/>
<line x1="275.90" y1="262.46" x2="278.20" y2="262.46" stroke="#000" stroke-width="0.8" />
<line x1="275.90" y1="251.03" x2="278.20" y2="251.03" stroke="#000" stroke-width="0.8" />
<line x1="275.90" y1="242.93" x2="278.20" y2="242.93" stroke="#000" stroke-width="0.8" />
<line x1="275.90" y1="236.64" x2="278.20" y2="236.64" stroke="#000" stroke-width="0.8" />
<line x1="275.90" y1="231.50" x2="278.20" y2="231.50" stroke="#000" stroke-width="0.8" />
<line x1="275.90" y1="227.15" x2="278.20" y2="227.15" stroke="#000" stroke-width="0.8" />
<line x1="275.90" y1="223.39" x2="278.20" y2="223.39" stroke="#000" stroke-width="0.8" />
<line x1="275.90" y1="220.07" x2="278.20" y2="220.07" stroke="#000" stroke-width="0.8" />
<line x1="275.90" y1="197.56" x2="278.20" y2="197.56" stroke="#000" stroke-width="0.8" />
<line x1="275.90" y1="186.13" x2="278.20" y2="186.13" stroke="#000" stroke-width="0.8" />
<line x1="275.90" y1="178.03" x2="278.20" y2="178.03" stroke="#000" stroke-width="0.8" />
<line x1="275.90" y1="171.74" x2="278.20" y2="171.74" stroke="#000" stroke-width="0.8" />
<line x1="275.90" y1="166.60" x2="278.20" y2="166.60" stroke="#000" stroke-width="0.8" />
<line x1="275.90" y1="162.25" x2="278.20" y2="162.25" stroke="#000" stroke-width="0.8" />
<line x1="275.90" y1="158.49" x2="278.20" y2="158.49" stroke="#000" stroke-width="0.8" />
<line x1="275.90" y1="155.17" x2="278.20" y2="155.17" stroke="#000" stroke-width="0.8" />
<line x1="275.90" y1="217.10" x2="280.20" y2="217.10" stroke="#000" stroke-width="1.1" />
<line x1="452.70" y1="217.10" x2="448.40" y2="217.10" stroke="#000" stroke-width="1.1" />
<line x1="275.90" y1="152.20" x2="280.20" y2="152.20" stroke="#000" stroke-width="1.1" />
<line x1="452.70" y1="152.20" x2="448.40" y2="152.20" stroke="#000" stroke-width="1.1" />
<text x="272.20" y="156.20" font-family='"Liberation Serif", serif' font-size="12" fill="#000" text-anchor="end"  >1000</text>
<text x="272.40" y="221.10" font-family='"Liberation Serif", serif' font-size="12" fill="#000" text-anchor="end"  >100</text>
<text x="272.20" y="285.60" font-family='"Liberation Serif", serif' font-size="12" fill="#000" text-anchor="end"  >10</text>
<text x="276.10" y="294.30" font-family='"Liberation Serif", serif' font-size="11.8" fill="#000" text-anchor="middle"  >0</text>
<text x="311.40" y="294.30" font-family='"Liberation Serif", serif' font-size="11.8" fill="#000" text-anchor="middle"  >0.1</text>
<text x="346.70" y="294.30" font-family='"Liberation Serif", serif' font-size="11.8" fill="#000" text-anchor="middle"  >0.2</text>
<text x="382.00" y="294.30" font-family='"Liberation Serif", serif' font-size="11.8" fill="#000" text-anchor="middle"  >0.3</text>
<text x="417.30" y="294.30" font-family='"Liberation Serif", serif' font-size="11.8" fill="#000" text-anchor="middle"  >0.4</text>
<text x="452.60" y="294.30" font-family='"Liberation Serif", serif' font-size="11.8" fill="#000" text-anchor="middle"  >0.5</text>
<text x="360.60" y="303.30" font-family='"Liberation Serif", serif' font-size="13" fill="#000" text-anchor="start"  font-style="italic">g</text>
<text transform="translate(250.9,243.5) rotate(-90)" font-family='"Liberation Serif", serif' font-size="13" fill="#000"><tspan font-style="italic">k</tspan><tspan font-size="9.5" dy="3" font-style="italic">B</tspan><tspan dy="-3" font-style="italic">T</tspan> (μeV)</text>
<text x="375.60" y="148.20" font-family='"Liberation Serif", serif' font-size="12.4" fill="#000" text-anchor="start"  ><tspan font-style="italic">V</tspan><tspan font-size="10" dy="3.6">S</tspan><tspan dy="-3.6"> = 400 μV</tspan></text>
<line x1="276.70" y1="223.40" x2="447.00" y2="223.40" stroke="#ff0000" stroke-width="2.2" stroke-dasharray="2.8,2.8"/>
<polyline points="279.30,197.80 282.70,205.40 287.50,207.40 295.40,202.60 311.00,212.50 343.50,208.30 376.60,208.00 410.80,212.80 445.60,215.30" fill="none" stroke="#ff0000" stroke-width="1.0" stroke-linejoin="round" stroke-linecap="round" />
<circle cx="279.30" cy="197.80" r="2.9" fill="#ff0000" stroke="none" stroke-width="1"/>
<circle cx="282.70" cy="205.40" r="2.9" fill="#ff0000" stroke="none" stroke-width="1"/>
<circle cx="287.50" cy="207.40" r="2.9" fill="#ff0000" stroke="none" stroke-width="1"/>
<circle cx="295.40" cy="202.60" r="2.9" fill="#ff0000" stroke="none" stroke-width="1"/>
<circle cx="311.00" cy="212.50" r="2.9" fill="#ff0000" stroke="none" stroke-width="1"/>
<circle cx="343.50" cy="208.30" r="2.9" fill="#ff0000" stroke="none" stroke-width="1"/>
<circle cx="376.60" cy="208.00" r="2.9" fill="#ff0000" stroke="none" stroke-width="1"/>
<circle cx="410.80" cy="212.80" r="2.9" fill="#ff0000" stroke="none" stroke-width="1"/>
<circle cx="445.60" cy="215.30" r="2.9" fill="#ff0000" stroke="none" stroke-width="1"/>
<polyline points="278.80,261.90 282.90,264.00 287.10,260.00 295.40,256.10 310.30,260.60 343.70,250.10 376.40,239.40 410.80,246.40 445.60,260.00" fill="none" stroke="#0000ff" stroke-width="1.0" stroke-linejoin="round" stroke-linecap="round" />
<circle cx="278.80" cy="261.90" r="2.9" fill="#0000ff" stroke="none" stroke-width="1"/>
<circle cx="282.90" cy="264.00" r="2.9" fill="#0000ff" stroke="none" stroke-width="1"/>
<circle cx="287.10" cy="260.00" r="2.9" fill="#0000ff" stroke="none" stroke-width="1"/>
<circle cx="295.40" cy="256.10" r="2.9" fill="#0000ff" stroke="none" stroke-width="1"/>
<circle cx="310.30" cy="260.60" r="2.9" fill="#0000ff" stroke="none" stroke-width="1"/>
<circle cx="343.70" cy="250.10" r="2.9" fill="#0000ff" stroke="none" stroke-width="1"/>
<circle cx="376.40" cy="239.40" r="2.9" fill="#0000ff" stroke="none" stroke-width="1"/>
<circle cx="410.80" cy="246.40" r="2.9" fill="#0000ff" stroke="none" stroke-width="1"/>
<circle cx="445.60" cy="260.00" r="2.9" fill="#0000ff" stroke="none" stroke-width="1"/>
<polyline points="276.60,266.60 277.44,266.48 278.54,266.32 279.85,266.14 281.32,265.93 282.88,265.71 284.49,265.47 286.08,265.23 287.60,265.00 289.12,264.76 290.72,264.50 292.36,264.22 294.01,263.94 295.65,263.67 297.23,263.39 298.72,263.14 300.10,262.90 301.31,262.70 302.37,262.52 303.33,262.37 304.24,262.22 305.16,262.06 306.14,261.88 307.23,261.66 308.50,261.40 309.96,261.08 311.57,260.71 313.28,260.30 315.06,259.87 316.87,259.44 318.65,259.00 320.38,258.59 322.00,258.20 323.53,257.84 325.01,257.48 326.46,257.14 327.88,256.80 329.27,256.47 330.65,256.14 332.02,255.82 333.40,255.50 334.77,255.19 336.12,254.90 337.46,254.62 338.79,254.34 340.12,254.05 341.44,253.76 342.77,253.44 344.10,253.10 345.43,252.74 346.74,252.35 348.05,251.96 349.36,251.55 350.68,251.13 352.03,250.70 353.40,250.25 354.80,249.80 356.26,249.33 357.76,248.84 359.30,248.32 360.85,247.81 362.40,247.29 363.94,246.77 365.44,246.28 366.90,245.80 368.30,245.36 369.64,244.94 370.96,244.54 372.26,244.14 373.55,243.74 374.87,243.33 376.21,242.88 377.60,242.40 379.02,241.89 380.45,241.37 381.90,240.83 383.37,240.27 384.87,239.68 386.40,239.06 387.98,238.40 389.60,237.70 391.38,236.90 393.37,235.97 395.46,234.97 397.55,233.96 399.55,232.98 401.36,232.09 402.87,231.35 404.00,230.80" fill="none" stroke="#0000ff" stroke-width="2.3" stroke-linejoin="round" stroke-linecap="butt" stroke-dasharray="2.8,2.4"/>
<path d="M325.55,210.5 A3.6,12.8 0 1 1 326.4,225.5" fill="none" stroke="#ff0000" stroke-width="0.85"/>
<path d="M350.9,243.5 A3.0,9.8 0 1 1 351.8,258" fill="none" stroke="#0000ff" stroke-width="0.85"/>
<text x="314.00" y="194.10" font-family='"Liberation Serif", serif' font-size="12" fill="#ff0000" text-anchor="start"  ><tspan font-style="italic">k</tspan><tspan font-size="9.5" dy="3" font-style="italic">B</tspan><tspan dy="-3" font-style="italic">T</tspan><tspan font-size="9.5" dy="3">S</tspan></text>
<text x="360.30" y="265.50" font-family='"Liberation Serif", serif' font-size="12" fill="#0000ff" text-anchor="start"  ><tspan font-style="italic">k</tspan><tspan font-size="9.5" dy="3" font-style="italic">B</tspan><tspan dy="-3" font-style="italic">T</tspan><tspan font-size="9.5" dy="3">L</tspan></text>
<rect x="504.80" y="47.10" width="175.80" height="174.70" fill="none" stroke="#000" stroke-width="1.5"/>
<line x1="522.44" y1="221.80" x2="522.44" y2="219.00" stroke="#000" stroke-width="0.9" />
<line x1="504.80" y1="204.27" x2="507.60" y2="204.27" stroke="#000" stroke-width="0.9" />
<line x1="532.76" y1="221.80" x2="532.76" y2="219.00" stroke="#000" stroke-width="0.9" />
<line x1="504.80" y1="194.02" x2="507.60" y2="194.02" stroke="#000" stroke-width="0.9" />
<line x1="540.08" y1="221.80" x2="540.08" y2="219.00" stroke="#000" stroke-width="0.9" />
<line x1="504.80" y1="186.74" x2="507.60" y2="186.74" stroke="#000" stroke-width="0.9" />
<line x1="545.76" y1="221.80" x2="545.76" y2="219.00" stroke="#000" stroke-width="0.9" />
<line x1="504.80" y1="181.10" x2="507.60" y2="181.10" stroke="#000" stroke-width="0.9" />
<line x1="550.40" y1="221.80" x2="550.40" y2="219.00" stroke="#000" stroke-width="0.9" />
<line x1="504.80" y1="176.49" x2="507.60" y2="176.49" stroke="#000" stroke-width="0.9" />
<line x1="554.32" y1="221.80" x2="554.32" y2="219.00" stroke="#000" stroke-width="0.9" />
<line x1="504.80" y1="172.59" x2="507.60" y2="172.59" stroke="#000" stroke-width="0.9" />
<line x1="557.72" y1="221.80" x2="557.72" y2="219.00" stroke="#000" stroke-width="0.9" />
<line x1="504.80" y1="169.21" x2="507.60" y2="169.21" stroke="#000" stroke-width="0.9" />
<line x1="560.72" y1="221.80" x2="560.72" y2="219.00" stroke="#000" stroke-width="0.9" />
<line x1="504.80" y1="166.23" x2="507.60" y2="166.23" stroke="#000" stroke-width="0.9" />
<line x1="581.04" y1="221.80" x2="581.04" y2="219.00" stroke="#000" stroke-width="0.9" />
<line x1="504.80" y1="146.04" x2="507.60" y2="146.04" stroke="#000" stroke-width="0.9" />
<line x1="591.36" y1="221.80" x2="591.36" y2="219.00" stroke="#000" stroke-width="0.9" />
<line x1="504.80" y1="135.79" x2="507.60" y2="135.79" stroke="#000" stroke-width="0.9" />
<line x1="598.68" y1="221.80" x2="598.68" y2="219.00" stroke="#000" stroke-width="0.9" />
<line x1="504.80" y1="128.51" x2="507.60" y2="128.51" stroke="#000" stroke-width="0.9" />
<line x1="604.36" y1="221.80" x2="604.36" y2="219.00" stroke="#000" stroke-width="0.9" />
<line x1="504.80" y1="122.87" x2="507.60" y2="122.87" stroke="#000" stroke-width="0.9" />
<line x1="609.00" y1="221.80" x2="609.00" y2="219.00" stroke="#000" stroke-width="0.9" />
<line x1="504.80" y1="118.26" x2="507.60" y2="118.26" stroke="#000" stroke-width="0.9" />
<line x1="612.92" y1="221.80" x2="612.92" y2="219.00" stroke="#000" stroke-width="0.9" />
<line x1="504.80" y1="114.36" x2="507.60" y2="114.36" stroke="#000" stroke-width="0.9" />
<line x1="616.32" y1="221.80" x2="616.32" y2="219.00" stroke="#000" stroke-width="0.9" />
<line x1="504.80" y1="110.98" x2="507.60" y2="110.98" stroke="#000" stroke-width="0.9" />
<line x1="619.32" y1="221.80" x2="619.32" y2="219.00" stroke="#000" stroke-width="0.9" />
<line x1="504.80" y1="108.00" x2="507.60" y2="108.00" stroke="#000" stroke-width="0.9" />
<line x1="639.64" y1="221.80" x2="639.64" y2="219.00" stroke="#000" stroke-width="0.9" />
<line x1="504.80" y1="87.81" x2="507.60" y2="87.81" stroke="#000" stroke-width="0.9" />
<line x1="649.96" y1="221.80" x2="649.96" y2="219.00" stroke="#000" stroke-width="0.9" />
<line x1="504.80" y1="77.56" x2="507.60" y2="77.56" stroke="#000" stroke-width="0.9" />
<line x1="657.28" y1="221.80" x2="657.28" y2="219.00" stroke="#000" stroke-width="0.9" />
<line x1="504.80" y1="70.28" x2="507.60" y2="70.28" stroke="#000" stroke-width="0.9" />
<line x1="662.96" y1="221.80" x2="662.96" y2="219.00" stroke="#000" stroke-width="0.9" />
<line x1="504.80" y1="64.64" x2="507.60" y2="64.64" stroke="#000" stroke-width="0.9" />
<line x1="667.60" y1="221.80" x2="667.60" y2="219.00" stroke="#000" stroke-width="0.9" />
<line x1="504.80" y1="60.03" x2="507.60" y2="60.03" stroke="#000" stroke-width="0.9" />
<line x1="671.52" y1="221.80" x2="671.52" y2="219.00" stroke="#000" stroke-width="0.9" />
<line x1="504.80" y1="56.13" x2="507.60" y2="56.13" stroke="#000" stroke-width="0.9" />
<line x1="674.92" y1="221.80" x2="674.92" y2="219.00" stroke="#000" stroke-width="0.9" />
<line x1="504.80" y1="52.75" x2="507.60" y2="52.75" stroke="#000" stroke-width="0.9" />
<line x1="677.92" y1="221.80" x2="677.92" y2="219.00" stroke="#000" stroke-width="0.9" />
<line x1="504.80" y1="49.77" x2="507.60" y2="49.77" stroke="#000" stroke-width="0.9" />
<line x1="563.40" y1="221.80" x2="563.40" y2="217.30" stroke="#000" stroke-width="1.1" />
<line x1="563.40" y1="47.10" x2="563.40" y2="51.60" stroke="#000" stroke-width="1.1" />
<line x1="504.80" y1="163.57" x2="509.30" y2="163.57" stroke="#000" stroke-width="1.1" />
<line x1="680.60" y1="163.57" x2="676.10" y2="163.57" stroke="#000" stroke-width="1.1" />
<line x1="622.00" y1="221.80" x2="622.00" y2="217.30" stroke="#000" stroke-width="1.1" />
<line x1="622.00" y1="47.10" x2="622.00" y2="51.60" stroke="#000" stroke-width="1.1" />
<line x1="504.80" y1="105.34" x2="509.30" y2="105.34" stroke="#000" stroke-width="1.1" />
<line x1="680.60" y1="105.34" x2="676.10" y2="105.34" stroke="#000" stroke-width="1.1" />
<text x="504.20" y="236.40" font-family='"Liberation Serif", serif' font-size="13" fill="#000" text-anchor="middle"  >10</text>
<text x="563.40" y="236.40" font-family='"Liberation Serif", serif' font-size="13" fill="#000" text-anchor="middle"  >100</text>
<text x="622.00" y="236.40" font-family='"Liberation Serif", serif' font-size="13" fill="#000" text-anchor="middle"  >1000</text>
<text x="664.00" y="236.40" font-family='"Liberation Serif", serif' font-size="13" fill="#000" text-anchor="start"  >10<tspan font-size="9" dy="-5">4</tspan></text>
<text x="500.60" y="225.70" font-family='"Liberation Serif", serif' font-size="13" fill="#000" text-anchor="end"  >10</text>
<text x="501.20" y="169.00" font-family='"Liberation Serif", serif' font-size="13" fill="#000" text-anchor="end"  >100</text>
<text x="483.80" y="110.00" font-family='"Liberation Serif", serif' font-size="13" fill="#000" text-anchor="start"  >10<tspan font-size="9" dy="-5">3</tspan></text>
<text x="483.60" y="54.00" font-family='"Liberation Serif", serif' font-size="13" fill="#000" text-anchor="start"  >10<tspan font-size="9" dy="-5">4</tspan></text>
<text x="571.50" y="251.50" font-family='"Liberation Serif", serif' font-size="13" fill="#000" text-anchor="start"  ><tspan font-style="italic">V</tspan><tspan font-size="9.5" dy="3">S</tspan><tspan dy="-3"> (μV)</tspan></text>
<text transform="translate(477.0,160.5) rotate(-90)" font-family='"Liberation Serif", serif' font-size="13" fill="#000"><tspan font-style="italic">k</tspan><tspan font-size="9.5" dy="3" font-style="italic">B</tspan><tspan dy="-3" font-style="italic">T</tspan><tspan font-size="9.5" dy="3">S</tspan><tspan dy="-3"> (μeV)</tspan></text>
<line x1="545.50" y1="221.80" x2="681.00" y2="87.80" stroke="#ff0000" stroke-width="2.4" stroke-dasharray="2.6,2.4"/>
<circle cx="598.40" cy="159.70" r="3.0" fill="#ff0000" stroke="none" stroke-width="1"/>
<circle cx="609.20" cy="142.70" r="3.0" fill="#ff0000" stroke="none" stroke-width="1"/>
<circle cx="612.60" cy="146.10" r="3.0" fill="#ff0000" stroke="none" stroke-width="1"/>
<circle cx="616.20" cy="142.70" r="3.0" fill="#ff0000" stroke="none" stroke-width="1"/>
<circle cx="640.00" cy="125.80" r="2.7" fill="#fff" stroke="#ff0000" stroke-width="1.1"/>
<circle cx="649.80" cy="127.30" r="2.7" fill="#fff" stroke="#ff0000" stroke-width="1.1"/>
<circle cx="657.10" cy="111.70" r="2.7" fill="#fff" stroke="#ff0000" stroke-width="1.1"/>
<circle cx="663.30" cy="101.90" r="2.7" fill="#fff" stroke="#ff0000" stroke-width="1.1"/>
<circle cx="667.50" cy="101.50" r="2.7" fill="#fff" stroke="#ff0000" stroke-width="1.1"/>
<circle cx="671.70" cy="99.80" r="2.7" fill="#fff" stroke="#ff0000" stroke-width="1.1"/>
<rect x="577.70" y="186.80" width="5.20" height="5.20" fill="#fff" stroke="#ff0000" stroke-width="1.1"/>
<polygon points="580.90,188.60 584.10,191.80 580.90,195.00 577.70,191.80" fill="#fff" stroke="#ff0000" stroke-width="1.1" stroke-linejoin="round"/>
<rect x="560.80" y="199.50" width="5.20" height="5.20" fill="#fff" stroke="#ff0000" stroke-width="1.1"/>
<polygon points="551.20,208.00 555.38,214.65 547.02,214.65" fill="#fff" stroke="#ff0000" stroke-width="1.1" stroke-linejoin="round"/>
<circle cx="485.70" cy="267.20" r="3.0" fill="#ff0000" stroke="none" stroke-width="1"/>
<circle cx="485.70" cy="281.00" r="2.7" fill="#fff" stroke="#ff0000" stroke-width="1.2"/>
<polygon points="485.70,291.70 489.10,295.10 485.70,298.50 482.30,295.10" fill="#fff" stroke="#ff0000" stroke-width="1.2" stroke-linejoin="round"/>
<rect x="482.90" y="306.50" width="5.60" height="5.60" fill="#fff" stroke="#ff0000" stroke-width="1.2"/>
<polygon points="485.70,319.80 490.10,326.80 481.30,326.80" fill="#fff" stroke="#ff0000" stroke-width="1.2" stroke-linejoin="round"/>
<text x="497.10" y="268.70" font-family='"Liberation Serif", serif' font-size="8.5" fill="#000" text-anchor="start"  >This work</text>
<text x="497.10" y="282.70" font-family='"Liberation Serif", serif' font-size="8.5" fill="#000" text-anchor="start"  >K. Suzuki et al., Comm. Phys. 6, 103 (2023).</text>
<text x="497.10" y="297.10" font-family='"Liberation Serif", serif' font-size="8.5" fill="#000" text-anchor="start"  >K. Itoh et al., Phys. Rev. Lett. 120, 197701 (2018).</text>
<text x="497.10" y="311.30" font-family='"Liberation Serif", serif' font-size="8.5" fill="#000" text-anchor="start"  >K. Washio et al., Phys. Rev. B 93, 075304 (2016).</text>
<text x="497.10" y="326.00" font-family='"Liberation Serif", serif' font-size="8.5" fill="#000" text-anchor="start"  >R. H. Rodriguez et al., Nat. Commun. 11, 2426 (2020).</text>
</svg></body></html>
